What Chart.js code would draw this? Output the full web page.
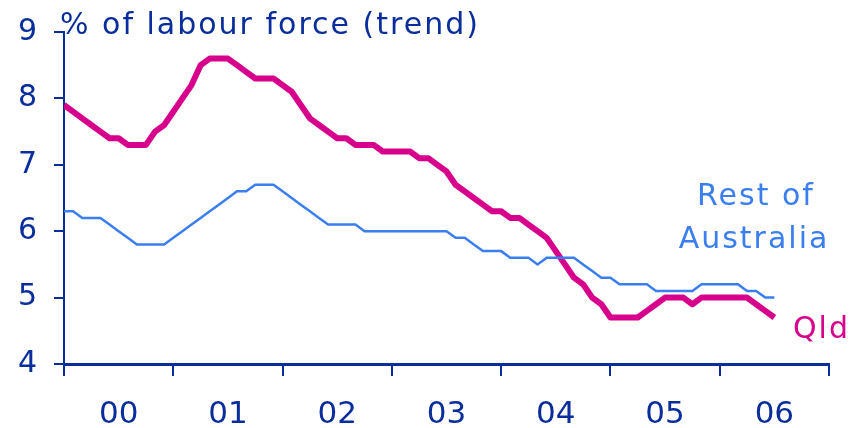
<!DOCTYPE html>
<html>
  <head>
    <title>Unemployment rate</title>
    <script src="https://cdn.jsdelivr.net/npm/chart.js"></script>
    <style>
      html, body {
        margin: 0;
        padding: 0;
        background: #fff;
      }
      #wrap {
        width: 863px;
        height: 428px;
      }
    </style>
  </head>
  <body>
    <div id="wrap"><canvas id="chart"></canvas></div>

    <script>
      // Monthly values, starting at the beginning of 2000
      const yearLabels = ['00', '01', '02', '03', '04', '05', '06']
      const qld = [
        7.9, 7.8, 7.7, 7.6, 7.5, 7.4, 7.4, 7.3, 7.3, 7.3, 7.5, 7.6,
        7.8, 8.0, 8.2, 8.5, 8.6, 8.6, 8.6, 8.5, 8.4, 8.3, 8.3, 8.3,
        8.2, 8.1, 7.9, 7.7, 7.6, 7.5, 7.4, 7.4, 7.3, 7.3, 7.3, 7.2,
        7.2, 7.2, 7.2, 7.1, 7.1, 7.0, 6.9, 6.7, 6.6, 6.5, 6.4, 6.3,
        6.3, 6.2, 6.2, 6.1, 6.0, 5.9, 5.7, 5.5, 5.3, 5.2, 5.0, 4.9,
        4.7, 4.7, 4.7, 4.7, 4.8, 4.9, 5.0, 5.0, 5.0, 4.9, 5.0, 5.0,
        5.0, 5.0, 5.0, 5.0, 4.9, 4.8, 4.7
      ]
      const restOfAustralia = [
        6.3, 6.3, 6.2, 6.2, 6.2, 6.1, 6.0, 5.9, 5.8, 5.8, 5.8, 5.8,
        5.9, 6.0, 6.1, 6.2, 6.3, 6.4, 6.5, 6.6, 6.6, 6.7, 6.7, 6.7,
        6.6, 6.5, 6.4, 6.3, 6.2, 6.1, 6.1, 6.1, 6.1, 6.0, 6.0, 6.0,
        6.0, 6.0, 6.0, 6.0, 6.0, 6.0, 6.0, 5.9, 5.9, 5.8, 5.7, 5.7,
        5.7, 5.6, 5.6, 5.6, 5.5, 5.6, 5.6, 5.6, 5.6, 5.5, 5.4, 5.3,
        5.3, 5.2, 5.2, 5.2, 5.2, 5.1, 5.1, 5.1, 5.1, 5.1, 5.2, 5.2,
        5.2, 5.2, 5.2, 5.1, 5.1, 5.0, 5.0
      ]

      const axisColor = '#0a2d9c'
      const qldColor = '#d6008c'
      const restColor = '#3a7ef0'
      const font = 'DejaVu Sans'

      const toPoints = values => values.map((v, i) => ({ x: i, y: v }))

      // title and series names written straight onto the canvas
      const annotations = {
        id: 'annotations',
        afterDraw(chart) {
          const ctx = chart.ctx
          ctx.save()
          ctx.letterSpacing = '2px'
          ctx.textBaseline = 'middle'
          ctx.font = '30px ' + font
          ctx.fillStyle = axisColor
          ctx.textAlign = 'left'
          ctx.fillText('% of labour force (trend)', 60, 26)

          ctx.fillStyle = restColor
          ctx.textAlign = 'center'
          ctx.fillText('Rest of', 756, 197)
          ctx.fillText('Australia', 754, 240)

          ctx.fillStyle = qldColor
          ctx.textAlign = 'left'
          ctx.fillText('Qld', 793, 330)
          ctx.restore()
          ctx.letterSpacing = '0px'
        }
      }

      new Chart(document.getElementById('chart'), {
        type: 'line',
        data: {
          datasets: [
            {
              label: 'Rest of Australia',
              data: toPoints(restOfAustralia),
              borderColor: restColor,
              borderWidth: 2.5,
              pointRadius: 0,
              tension: 0
            },
            {
              label: 'Qld',
              data: toPoints(qld),
              borderColor: qldColor,
              borderWidth: 6,
              pointRadius: 0,
              tension: 0,
              borderJoinStyle: 'round'
            }
          ]
        },
        options: {
          responsive: true,
          maintainAspectRatio: false,
          animation: false,
          layout: {
            padding: { left: 0, right: 34, top: 14, bottom: 0 }
          },
          plugins: {
            legend: { display: false },
            tooltip: { enabled: false }
          },
          scales: {
            x: {
              type: 'linear',
              min: 0,
              max: 84,
              afterBuildTicks: axis => {
                const ticks = []
                for (let m = 0; m <= 84; m += 6) ticks.push({ value: m })
                axis.ticks = ticks
              },
              afterFit: axis => {
                axis.height = 64
              },
              ticks: {
                autoSkip: false,
                maxRotation: 0,
                padding: 23,
                color: axisColor,
                font: { family: font, size: 31, lineHeight: 1 },
                callback: value =>
                  value % 12 === 6 ? yearLabels[(value - 6) / 12] : ''
              },
              grid: {
                drawOnChartArea: false,
                tickLength: 12,
                lineWidth: 2,
                color: ctx =>
                  ctx.tick && ctx.tick.value % 12 === 0 ? axisColor : 'rgba(0,0,0,0)'
              },
              border: { color: axisColor, width: 3 }
            },
            y: {
              min: 4,
              max: 9,
              afterFit: axis => {
                axis.width = 64
              },
              ticks: {
                stepSize: 1,
                padding: 17,
                color: axisColor,
                font: { family: font, size: 30, lineHeight: 1 }
              },
              grid: {
                drawOnChartArea: false,
                tickLength: 10,
                lineWidth: 2,
                color: axisColor
              },
              border: { color: axisColor, width: 2 }
            }
          }
        },
        plugins: [annotations]
      })
    </script>
  </body>
</html>
